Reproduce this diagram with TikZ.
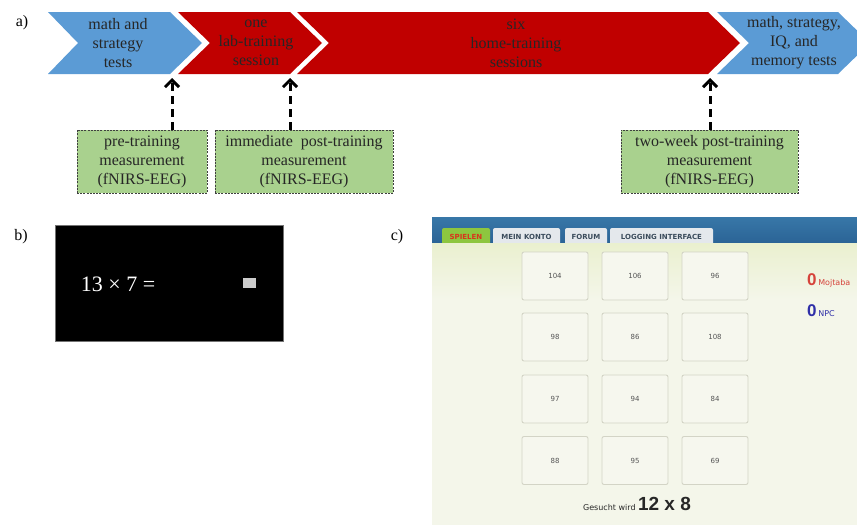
\documentclass[tikz,border=0pt]{standalone}
\usepackage{fontspec}
\setmainfont{Liberation Serif}
\newfontfamily\uisans{DejaVu Sans}
\newfontfamily\uibold{Liberation Sans}
\usetikzlibrary{arrows.meta}
\definecolor{chevblue}{HTML}{5B9BD5}
\definecolor{chevred}{HTML}{C00000}
\definecolor{boxgreen}{HTML}{A9D18E}
\definecolor{bartop}{HTML}{3877A8}
\definecolor{barbot}{HTML}{2A6395}
\definecolor{pagebg}{HTML}{F4F6EA}
\definecolor{pagetop}{HTML}{EAF0CF}
\definecolor{tabgray}{HTML}{E4E8EC}
\definecolor{tabtext}{HTML}{3B4C5C}
\definecolor{tabgreen}{HTML}{8DC63F}
\definecolor{tabred}{HTML}{D8341C}
\definecolor{cellfill}{HTML}{F6F7EE}
\definecolor{celledge}{HTML}{D3D4C6}
\definecolor{numgray}{HTML}{555555}
\definecolor{scorered}{HTML}{D6433B}
\definecolor{scoreblue}{HTML}{2F2FA8}
\begin{document}
\begin{tikzpicture}[x=1pt,y=-1pt,
  chevtext/.style={font=\fontsize{16}{19}\selectfont, align=center, text=black!85, inner sep=0},
  measbox/.style={draw=black!75, dash pattern=on 2pt off 1.2pt, line width=0.8pt, fill=boxgreen,
    minimum height=63, font=\fontsize{16}{19}\selectfont, align=center, inner sep=0, text=black!85},
  measarrow/.style={line width=3pt, dash pattern=on 8pt off 5pt,
    -{Straight Barb[length=7pt,width=14pt,line width=3pt]}},
  panellabel/.style={font=\fontsize{16}{19}\selectfont, inner sep=0},
  tabbox/.style={rounded corners=2pt, minimum height=18, inner sep=0, font=\uisans\bfseries\fontsize{7}{8}\selectfont},
  cellbox/.style={draw=celledge, line width=0.9pt, fill=cellfill, rounded corners=2pt,
    minimum width=66, minimum height=48, inner sep=0, font=\uisans\fontsize{7}{8}\selectfont, text=numgray},
]
\useasboundingbox (0,0) rectangle (857,525);
\begin{scope}
\clip (0,0) rectangle (857,525);

% ---------- panel a ----------
\node[panellabel] (la) at (22,23) {a)};

\fill[chevblue] (48,12) -- (170,12) -- (202,43) -- (170,74) -- (48,74) -- (78,43) -- cycle;
\fill[chevred] (178,12) -- (290,12) -- (322,43) -- (290,74) -- (178,74) -- (210,43) -- cycle;
\fill[chevred] (297,12) -- (708,12) -- (740,43) -- (708,74) -- (297,74) -- (329,43) -- cycle;
\fill[chevblue] (717,12) -- (838,12) -- (870,43) -- (838,74) -- (717,74) -- (749,43) -- cycle;

\node[chevtext] (ch1) at (118,43) {math and\\strategy\\tests};
\node[chevtext] (ch2) at (256,43) {one\\lab-training\\session};
\node[chevtext] (ch3) at (516,43) {six\\home-training\\sessions};
\node[chevtext] (ch4) at (794,43) {math, strategy,\\IQ, and\\memory tests};

\coordinate (t1) at (172,78);
\coordinate (t2) at (290,78);
\coordinate (t3) at (710,78);

\node[measbox, minimum width=130] (m1) at (142,161.5) {pre-training\\measurement\\(fNIRS-EEG)};
\node[measbox, minimum width=178] (m2) at (304,161.5) {immediate\ \ post-training\\measurement\\(fNIRS-EEG)};
\node[measbox, minimum width=177] (m3) at (709.5,161.5) {two-week post-training\\measurement\\(fNIRS-EEG)};

\draw[measarrow] (m1.north -| t1) -- (t1);
\draw[measarrow] (m2.north -| t2) -- (t2);
\draw[measarrow] (m3.north -| t3) -- (t3);

% ---------- panel b ----------
\node[panellabel] (lb) at (21,237) {b)};
\node[fill=black, draw=black!55, line width=0.6pt, minimum width=228, minimum height=116, inner sep=0] (screen) at (169,283) {};
\node[text=white, font=\fontsize{22}{24}\selectfont, inner sep=0] (task) at (118,284) {13 × 7 =};
\node[fill=black!20, minimum width=13, minimum height=10, inner sep=0] (answer) at (249.5,283) {};

% ---------- panel c ----------
\node[panellabel] (lc) at (397,237) {c)};
\shade[top color=bartop, bottom color=barbot] (432,217) rectangle (857,244);

\node[tabbox, fill=tabgreen, minimum width=48, text=tabred] (tab1) at (466,237) {SPIELEN};
\node[tabbox, fill=tabgray, minimum width=67, text=tabtext] (tab2) at (526.5,237) {MEIN KONTO};
\node[tabbox, fill=tabgray, minimum width=42, text=tabtext] (tab3) at (586,237) {FORUM};
\node[tabbox, fill=tabgray, minimum width=103, text=tabtext] (tab4) at (661.5,237) {LOGGING INTERFACE};

\fill[pagebg] (432,243) rectangle (857,525);
\shade[top color=pagetop, bottom color=pagebg] (432,243) rectangle (857,300);

\node[cellbox] (c11) at (555,276) {104};
\node[cellbox] (c12) at (635,276) {106};
\node[cellbox] (c13) at (715,276) {96};
\node[cellbox] (c21) at (555,337) {98};
\node[cellbox] (c22) at (635,337) {86};
\node[cellbox] (c23) at (715,337) {108};
\node[cellbox] (c31) at (555,399) {97};
\node[cellbox] (c32) at (635,399) {94};
\node[cellbox] (c33) at (715,399) {84};
\node[cellbox] (c41) at (555,460.5) {88};
\node[cellbox] (c42) at (635,460.5) {95};
\node[cellbox] (c43) at (715,460.5) {69};

\node[anchor=base west, inner sep=0, text=scorered] (s1) at (807,285)
  {{\uibold\bfseries\fontsize{17}{18}\selectfont 0}\,{\uisans\fontsize{8}{9}\selectfont Mojtaba}};
\node[anchor=base west, inner sep=0, text=scoreblue] (s2) at (807,316)
  {{\uibold\bfseries\fontsize{17}{18}\selectfont 0}\,{\uisans\fontsize{8}{9}\selectfont NPC}};

\node[anchor=base, inner sep=0, text=black!85] (goal) at (637,510)
  {{\uisans\fontsize{8}{9}\selectfont Gesucht wird} {\uibold\bfseries\fontsize{19}{20}\selectfont 12 x 8}};
\end{scope}
\end{tikzpicture}
\end{document}
